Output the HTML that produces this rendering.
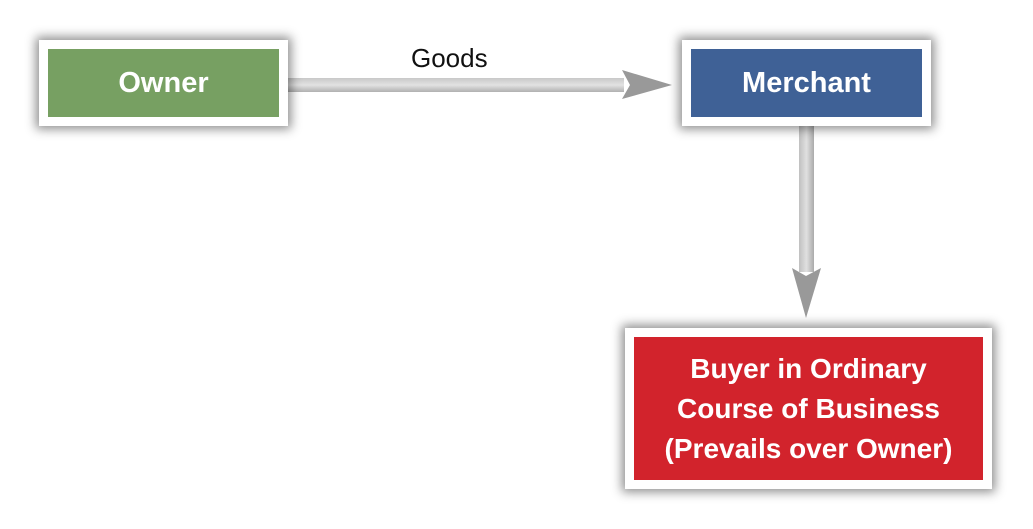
<!DOCTYPE html>
<html><head><style>
body{margin:0;width:1033px;height:529px;background:#fff;position:relative;overflow:hidden;font-family:"Liberation Sans",sans-serif}
.box{position:absolute;background:#fff;box-shadow:0 0 10px 3px rgba(0,0,0,.45)}
.in{position:absolute;left:9px;top:9px;right:9px;bottom:9px;color:#fff;font-weight:bold;display:flex;align-items:center;justify-content:center;text-align:center}
</style></head><body>
<svg width="1033" height="529" style="position:absolute;left:0;top:0">
<defs>
<linearGradient id="h" x1="0" y1="0" x2="0" y2="1"><stop offset="0" stop-color="#c8c8c8"/><stop offset=".5" stop-color="#e2e2e2"/><stop offset="1" stop-color="#b0b0b0"/></linearGradient>
<linearGradient id="v" x1="0" y1="0" x2="1" y2="0"><stop offset="0" stop-color="#c0c0c0"/><stop offset=".5" stop-color="#e0e0e0"/><stop offset="1" stop-color="#aaa"/></linearGradient>
</defs>
<rect x="288" y="78" width="336" height="14" fill="url(#h)"/>
<polygon points="622,70 672,85 622,99 630,85" fill="#999"/>
<rect x="799" y="126" width="15" height="146" fill="url(#v)"/>
<polygon points="792,268 806,318 821,268 806,276" fill="#999"/>
</svg>
<div style="position:absolute;left:411px;top:43px;font-size:26px;color:#111">Goods</div>
<div class="box" style="left:39px;top:40px;width:249px;height:86px"><div class="in" style="background:#77a062;font-size:29px">Owner</div></div>
<div class="box" style="left:682px;top:40px;width:249px;height:86px"><div class="in" style="background:#3f6196;font-size:29px">Merchant</div></div>
<div class="box" style="left:625px;top:328px;width:367px;height:161px"><div class="in" style="background:#d2232c;font-size:28px;line-height:40px">Buyer in Ordinary<br>Course of Business<br>(Prevails over Owner)</div></div>
</body></html>
